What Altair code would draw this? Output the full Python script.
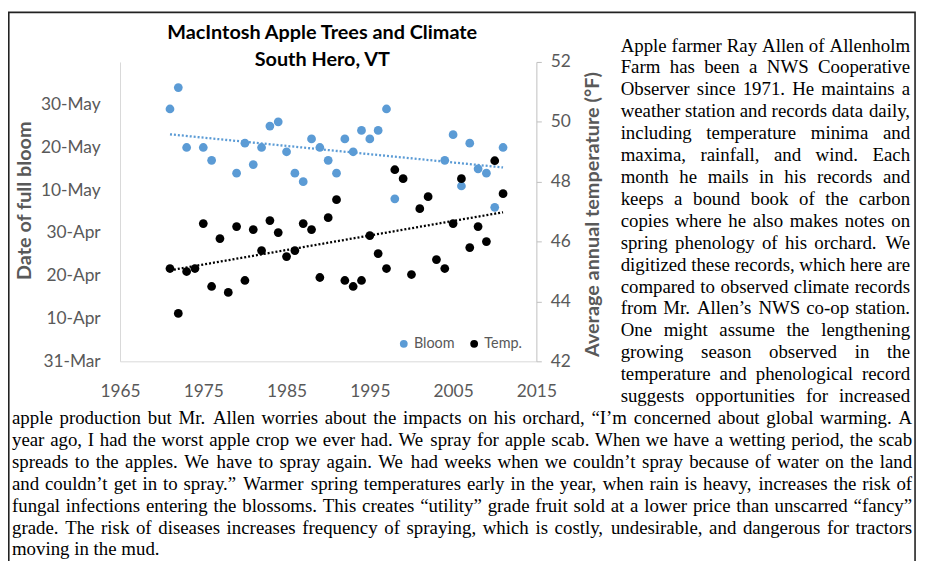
import altair as alt
import pandas as pd

# ---------------- data ----------------
bloom_years = [1971, 1972, 1973, 1975, 1976, 1979, 1980, 1981, 1982, 1983, 1984,
               1985, 1986, 1987, 1988, 1989, 1990, 1991, 1992, 1993, 1994, 1995,
               1996, 1997, 1998, 2004, 2005, 2006, 2007, 2008, 2009, 2010, 2011]
# days after 31-Mar
bloom_days = [59, 64, 50, 50, 47, 44, 51, 46, 50, 55, 56,
              49, 44, 42, 52, 50, 47, 44, 52, 49, 54, 52,
              54, 59, 38, 47, 53, 41, 51, 45, 44, 36, 50]

temp_years = [1971, 1972, 1973, 1974, 1975, 1976, 1977, 1978, 1979, 1980,
              1981, 1982, 1983, 1984, 1985, 1986, 1987, 1988, 1989, 1990,
              1991, 1992, 1993, 1994, 1995, 1996, 1997, 1998, 1999, 2000,
              2001, 2002, 2003, 2004, 2005, 2006, 2007, 2008, 2009, 2010, 2011]
temps = [45.1, 43.6, 45.0, 45.1, 46.6, 44.5, 46.1, 44.3, 46.5, 44.7,
         46.4, 45.7, 46.7, 46.3, 45.5, 45.7, 46.6, 46.4, 44.8, 46.8,
         47.4, 44.7, 44.5, 44.7, 46.2, 45.6, 45.1, 48.4, 48.1, 44.9,
         47.1, 47.5, 45.4, 45.1, 46.6, 48.1, 45.8, 46.5, 46.0, 48.7, 47.6]

x_ticks = [1965, 1975, 1985, 1995, 2005, 2015]
left_tick_days = [0, 10, 20, 30, 40, 50, 60]
left_tick_labels = ["31-Mar", "10-Apr", "20-Apr", "30-Apr", "10-May", "20-May", "30-May"]
right_ticks = [42, 44, 46, 48, 50, 52]
series_names = ["Bloom", "Temp."]
series_colors = ["#5B9BD5", "#000000"]

title_lines = ["MacIntosh Apple Trees and Climate", "South Hero, VT"]
left_title = "Date of full bloom"
right_title = "Average annual temperature (°F)"

right_lines = [
    "Apple farmer Ray Allen of Allenholm",
    "Farm has been a NWS Cooperative",
    "Observer since 1971. He maintains a",
    "weather station and records data daily,",
    "including temperature minima and",
    "maxima, rainfall, and wind. Each",
    "month he mails in his records and",
    "keeps a bound book of the carbon",
    "copies where he also makes notes on",
    "spring phenology of his orchard. We",
    "digitized these records, which here are",
    "compared to observed climate records",
    "from Mr. Allen\u2019s NWS co-op station.",
    "One might assume the lengthening",
    "growing season observed in the",
    "temperature and phenological record",
    "suggests opportunities for increased",
]
bottom_lines = [
    "apple production but Mr. Allen worries about the impacts on his orchard, \u201cI\u2019m concerned about global warming. A",
    "year ago, I had the worst apple crop we ever had. We spray for apple scab. When we have a wetting period, the scab",
    "spreads to the apples. We have to spray again. We had weeks when we couldn\u2019t spray because of water on the land",
    "and couldn\u2019t get in to spray.\u201d Warmer spring temperatures early in the year, when rain is heavy, increases the risk of",
    "fungal infections entering the blossoms. This creates \u201cutility\u201d grade fruit sold at a lower price than unscarred \u201cfancy\u201d",
    "grade. The risk of diseases increases frequency of spraying, which is costly, undesirable, and dangerous for tractors",
    "moving in the mud.",
]

# ---------------- layout ----------------
W, H = 420, 302
PAD_L, PAD_T = 113, 52
CANVAS_W, CANVAS_H = 920, 553
OX, OY = 8 + PAD_L, 8 + PAD_T   # page position of plot origin
LABEL_FONT = "Lato"
GRAY = "#595959"
SERIF = "Liberation Serif"
FS = 19
TICK_FS = 17.5

# Times metrics (Liberation Serif is metric compatible)
_w = dict(zip("abcdefghijklmnopqrstuvwxyz",
              [444, 500, 444, 500, 444, 333, 500, 500, 278, 278, 500, 278, 778,
               500, 500, 500, 500, 333, 389, 278, 500, 500, 722, 500, 500, 444]))
_w.update(dict(zip("ABCDEFGHIJKLMNOPQRSTUVWXYZ",
                   [722, 667, 667, 722, 611, 556, 722, 722, 333, 389, 722, 611, 889,
                    722, 722, 556, 722, 667, 556, 611, 722, 722, 944, 722, 722, 611])))
_w.update({c: 500 for c in "0123456789"})
_w.update({" ": 250, ".": 250, ",": 250, "-": 333, "\u2019": 333, "\u2018": 333,
           "\u201c": 444, "\u201d": 444, "(": 333, ")": 333, ":": 278, ";": 278})


def tw(s):
    return sum(_w.get(c, 500) for c in s) * FS / 1000.0


BASE0, STEP = 49.5, 22.1
rows = []


def lay(lines, left, right, first_idx, justify_last):
    for i, line in enumerate(lines):
        y = BASE0 + STEP * (first_idx + i)
        words = line.split(" ")
        just = (i < len(lines) - 1) or justify_last
        widths = [tw(w) for w in words]
        if just and len(words) > 1:
            gap = (right - left - sum(widths)) / (len(words) - 1)
        else:
            gap = tw(" ")
        x = left
        for k, (w, wd) in enumerate(zip(words, widths)):
            if just and len(words) > 1 and k == len(words) - 1:
                rows.append({"word": w, "x": right - OX, "y": y - OY, "a": "right"})
            else:
                rows.append({"word": w, "x": x - OX, "y": y - OY, "a": "left"})
            x += wd + gap


lay(right_lines, 626, 918, 0, True)
lay(bottom_lines, 12, 920, len(right_lines), False)
words_df = pd.DataFrame(rows)

bloom_df = pd.DataFrame({"year": bloom_years, "bloom": bloom_days, "series": "Bloom"})
temp_df = pd.DataFrame({"year": temp_years, "temp": temps, "series": "Temp."})

label_arr = "[" + ",".join("'" + s + "'" for s in left_tick_labels) + "]"

xscale = alt.Scale(domain=[1965, 2015], nice=False, zero=False)
color = alt.Color("series:N",
                  scale=alt.Scale(domain=series_names, range=series_colors),
                  legend=alt.Legend(orient="none", legendX=279, legendY=277, direction="horizontal",
                                    title=None, symbolType="circle", symbolSize=62,
                                    symbolStrokeWidth=0, labelFont=LABEL_FONT, labelFontSize=14.5,
                                    labelColor=GRAY, columnPadding=12, padding=0, labelOffset=3))

x_axis = alt.Axis(values=x_ticks, format="d", labelFont=LABEL_FONT, labelFontSize=TICK_FS,
                  labelColor=GRAY, ticks=False, labelPadding=21, domainColor="#d9d9d9",
                  labelFlush=False, grid=False, title=None)

bloom_base = alt.Chart(bloom_df)
bloom_pts = bloom_base.mark_point(filled=True, size=78, opacity=1).encode(
    x=alt.X("year:Q", scale=xscale, axis=x_axis),
    y=alt.Y("bloom:Q", scale=alt.Scale(domain=[0, 70], nice=False, zero=False),
            axis=alt.Axis(orient="left", values=left_tick_days,
                          labelExpr=label_arr + "[datum.value/10]",
                          labelFont=LABEL_FONT, labelFontSize=TICK_FS, labelColor=GRAY,
                          ticks=False, labelPadding=20, domainColor="#d9d9d9",
                          labelFlush=False, grid=False, title=None)),
    color=color,
)
bloom_trend = bloom_base.transform_regression("year", "bloom").mark_line(
    color="#5B9BD5", strokeDash=[2, 2], strokeWidth=2.3
).encode(x=alt.X("year:Q", scale=xscale), y="bloom:Q")
bloom_layer = alt.layer(bloom_pts, bloom_trend)

temp_base = alt.Chart(temp_df)
temp_pts = temp_base.mark_point(filled=True, size=78, opacity=1).encode(
    x=alt.X("year:Q", scale=xscale, axis=None),
    y=alt.Y("temp:Q", scale=alt.Scale(domain=[42, 52], nice=False, zero=False),
            axis=alt.Axis(orient="right", values=right_ticks, labelFont=LABEL_FONT,
                          labelFontSize=TICK_FS, labelColor=GRAY, tickSize=5,
                          tickColor="#bfbfbf", domainColor="#bfbfbf", labelPadding=9,
                          labelFlush=False, grid=False, title=None)),
    color=color,
)
temp_trend = temp_base.transform_regression("year", "temp").mark_line(
    color="#000000", strokeDash=[2, 2], strokeWidth=2.3
).encode(x=alt.X("year:Q", scale=xscale), y="temp:Q")
temp_layer = alt.layer(temp_pts, temp_trend)

one = alt.Data(values=[{"k": 1}])

title1 = alt.Chart(one).mark_text(font=LABEL_FONT, fontWeight="bold", fontSize=20,
                                  color="#000000", baseline="middle", align="center",
                                  text=title_lines[0]).encode(
    x=alt.value(325 - OX), y=alt.value(31 - OY))
title2 = alt.Chart(one).mark_text(font=LABEL_FONT, fontWeight="bold", fontSize=20,
                                  color="#000000", baseline="middle", align="center",
                                  text=title_lines[1]).encode(
    x=alt.value(325 - OX), y=alt.value(58 - OY))
ltitle = alt.Chart(one).mark_text(font=LABEL_FONT, fontWeight="bold", fontSize=20,
                                  color=GRAY, baseline="middle", align="center",
                                  angle=270, text=left_title).encode(
    x=alt.value(25 - OX), y=alt.value(200 - OY))
rtitle = alt.Chart(one).mark_text(font=LABEL_FONT, fontWeight="bold", fontSize=20,
                                  color=GRAY, baseline="middle", align="center",
                                  angle=270, text=right_title).encode(
    x=alt.value(598 - OX), y=alt.value(214 - OY))

words_left = alt.Chart(words_df).transform_filter("datum.a == 'left'").mark_text(
    font=SERIF, fontSize=FS, color="#000000", align="left", baseline="alphabetic"
).encode(x=alt.X("x:Q", scale=None, axis=None), y=alt.Y("y:Q", scale=None, axis=None),
         text="word:N")
words_right = alt.Chart(words_df).transform_filter("datum.a == 'right'").mark_text(
    font=SERIF, fontSize=FS, color="#000000", align="right", baseline="alphabetic"
).encode(x=alt.X("x:Q", scale=None, axis=None), y=alt.Y("y:Q", scale=None, axis=None),
         text="word:N")

frame = alt.Chart(one).mark_rect(filled=False, stroke="#222222", strokeWidth=1.6).encode(
    x=alt.value(8.8 - OX), x2=alt.value(923 - OX), y=alt.value(10 - OY), y2=alt.value(600 - OY))

chart = alt.layer(
    frame, bloom_layer, temp_layer, title1, title2, ltitle, rtitle, words_left, words_right
).resolve_scale(x="independent", y="independent").properties(
    width=W, height=H,
    autosize=alt.AutoSizeParams(type="none"),
    padding={"left": PAD_L, "top": PAD_T, "right": CANVAS_W - PAD_L - W,
             "bottom": CANVAS_H - PAD_T - H},
).configure_view(strokeWidth=0)

chart.save("out.html", embed_options={"renderer": "svg", "actions": False})
